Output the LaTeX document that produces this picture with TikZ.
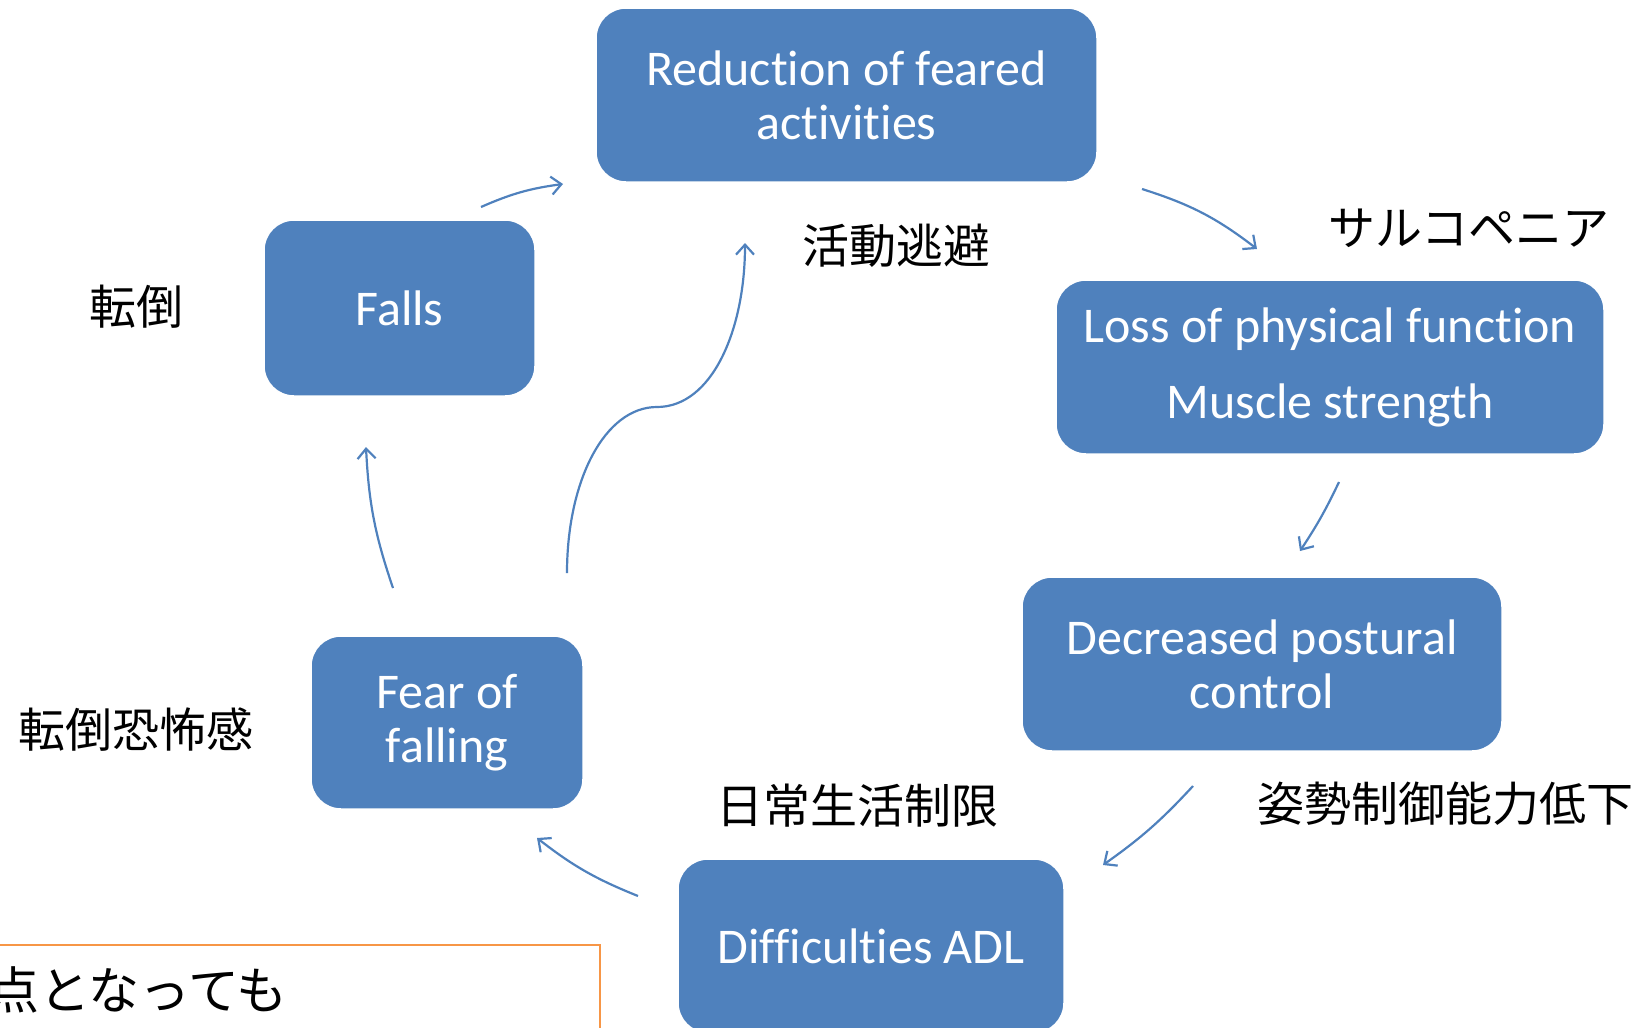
\documentclass[tikz,border=0pt]{standalone}
\usepackage{fontspec}
\setmainfont{Carlito}[Ligatures=NoCommon]
\newfontfamily\jpfont{Noto Sans CJK JP}
\usetikzlibrary{arrows.meta}
\definecolor{boxblue}{HTML}{4F81BD}
\definecolor{boxorange}{HTML}{F79646}
\begin{document}
\begin{tikzpicture}[x=1pt,y=-1pt,
  box/.style={fill=boxblue, draw=white, line width=1.5pt, rounded corners=30pt,
    text=white, font=\fontsize{50}{54}\selectfont, align=center, inner sep=0pt},
  jlabel/.style={font=\jpfont\fontsize{47}{56}\selectfont, inner sep=0pt, text=black},
  arr/.style={draw=boxblue, line width=2.2pt, -{Straight Barb[length=10pt,width=18pt]}}]
\useasboundingbox (0,0) rectangle (1642,1028);
% boxes
\node[box, minimum width=501pt, minimum height=174pt] (red) at (846.5,95) {Reduction of feared\\activities};
\node[box, minimum width=271pt, minimum height=176pt] (falls) at (399.5,308) {Falls};
\node[box, minimum width=548pt, minimum height=174pt, font=\fontsize{50}{76}\selectfont] (loss) at (1330,367) {Loss of physical function\\Muscle strength};
\node[box, minimum width=480pt, minimum height=174pt] (dec) at (1262,664) {Decreased postural\\control};
\node[box, minimum width=272pt, minimum height=173pt] (fear) at (447,722.5) {Fear of\\falling};
\node[box, minimum width=386pt, minimum height=174pt] (adl) at (871,946) {Difficulties ADL};
% labels
\node[jlabel] (l1) at (136,307) {転倒};
\node[jlabel] (l2) at (136,730) {転倒恐怖感};
\node[jlabel] (l3) at (896,246) {活動逃避};
\node[jlabel] (l4) at (1469,228) {サルコペニア};
\node[jlabel] (l5) at (857,806) {日常生活制限};
\node[jlabel] (l6) at (1445,804) {姿勢制御能力低下};
% orange box
\draw[boxorange, line width=2pt] (-10,945) -- (600,945) -- (600,1040);
\node[jlabel, anchor=west, font=\jpfont\fontsize{51}{60}\selectfont] (note) at (-12,990) {点となっても};
% arrow end points
\coordinate (a1s) at (481,207); \coordinate (a1e) at (563,184);
\coordinate (a2s) at (1142,189); \coordinate (a2e) at (1257,249);
\coordinate (a3s) at (1339,482); \coordinate (a3e) at (1300,551);
\coordinate (a4s) at (1193,786); \coordinate (a4e) at (1103,865);
\coordinate (a5s) at (638,896); \coordinate (a5e) at (537,838);
\coordinate (a6s) at (393,588); \coordinate (a6e) at (366,447);
\coordinate (a7s) at (567,573); \coordinate (a7m) at (657,407); \coordinate (a7e) at (745,243);
% arrows
\draw[arr] (a1s) to[bend left=8] (a1e);
\draw[arr] (a2s) to[bend left=10] (a2e);
\draw[arr] (a3s) to[bend left=4] (a3e);
\draw[arr] (a4s) to[bend left=6] (a4e);
\draw[arr] (a5s) to[bend left=8] (a5e);
\draw[arr] (a6s) to[bend left=8] (a6e);
\draw[arr] (a7s) .. controls (567,480) and (605,407) .. (a7m) .. controls (712,407) and (745,330) .. (a7e);
\end{tikzpicture}
\end{document}
